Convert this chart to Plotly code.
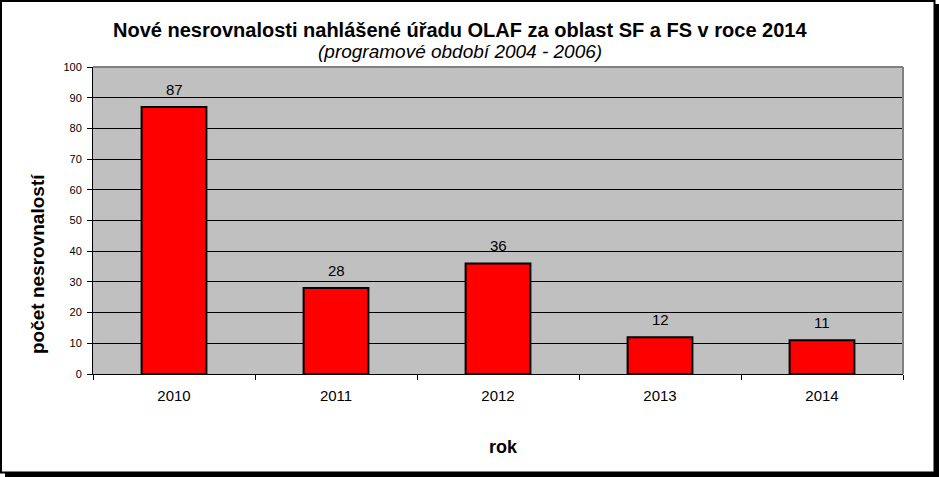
import plotly.graph_objects as go

years = ["2010", "2011", "2012", "2013", "2014"]
counts = [87, 28, 36, 12, 11]

title_text = "Nové nesrovnalosti nahlášené úřadu OLAF za oblast SF a FS v roce 2014"
subtitle_text = "(programové období 2004 - 2006)"
y_title = "počet nesrovnalostí"
x_title = "rok"

FONT = "Liberation Sans, Arial, sans-serif"
W, H = 939, 477
L, R, T, B = 93, 36, 67, 103
PW, PH = W - L - R, H - T - B


def px(x):
    return (x - L) / PW


def py(y):
    return (H - B - y) / PH


xpos = list(range(len(years)))

fig = go.Figure()
fig.add_trace(go.Bar(
    x=xpos, y=counts,
    marker=dict(color="#FF0000", line=dict(color="black", width=2)),
    hoverinfo="skip",
))

annotations = []
for xi, v in zip(xpos, counts):
    annotations.append(dict(x=xi, y=v, xref="x", yref="y", text=str(v), showarrow=False,
                            yanchor="bottom", yshift=7,
                            font=dict(family=FONT, size=15, color="black")))
annotations += [
    dict(x=px(460), y=py(30), xref="paper", yref="paper", text="<b>" + title_text + "</b>",
         showarrow=False, xanchor="center", yanchor="middle",
         font=dict(family=FONT, size=20, color="black")),
    dict(x=px(460), y=py(52), xref="paper", yref="paper", text="<i>" + subtitle_text + "</i>",
         showarrow=False, xanchor="center", yanchor="middle",
         font=dict(family=FONT, size=19, color="black")),
    dict(x=px(503), y=py(447), xref="paper", yref="paper", text="<b>" + x_title + "</b>",
         showarrow=False, xanchor="center", yanchor="middle",
         font=dict(family=FONT, size=18, color="black")),
    dict(x=px(37), y=py(264), xref="paper", yref="paper", text="<b>" + y_title + "</b>",
         showarrow=False, xanchor="center", yanchor="middle", textangle=-90,
         font=dict(family=FONT, size=19, color="black")),
]

shapes = [
    dict(type="rect", xref="paper", yref="paper", x0=px(1), x1=px(934.5), y0=py(1), y1=py(472.5),
         line=dict(color="black", width=2), fillcolor="rgba(0,0,0,0)", layer="above"),
    dict(type="rect", xref="paper", yref="paper", x0=px(934.5), x1=px(940), y0=py(4), y1=py(478),
         line=dict(width=0), fillcolor="black", layer="above"),
    dict(type="rect", xref="paper", yref="paper", x0=px(5), x1=px(940), y0=py(472.5), y1=py(478),
         line=dict(width=0), fillcolor="black", layer="above"),
    dict(type="line", xref="paper", yref="paper", x0=0, x1=1, y0=1, y1=1,
         line=dict(color="#808080", width=2), layer="above"),
    dict(type="line", xref="paper", yref="paper", x0=1, x1=1, y0=0, y1=1,
         line=dict(color="#808080", width=2), layer="above"),
]

fig.update_layout(
    width=W, height=H,
    margin=dict(l=L, r=R, t=T, b=B, pad=0),
    paper_bgcolor="white",
    plot_bgcolor="#C0C0C0",
    showlegend=False,
    bargap=0.6,
    font=dict(family=FONT, color="black"),
    annotations=annotations,
    shapes=shapes,
    xaxis=dict(
        type="linear", range=[-0.5, len(years) - 0.5],
        tickmode="array", tickvals=xpos, ticktext=years,
        ticks="", ticklen=0,
        minor=dict(tickmode="linear", tick0=-0.5, dtick=1, ticks="outside", ticklen=5,
                   tickcolor="black", tickwidth=1, showgrid=False),
        showline=True, linecolor="black", linewidth=1, showgrid=False, zeroline=False,
        tickfont=dict(family=FONT, size=15, color="black"), ticklabelstandoff=8,
        fixedrange=True,
    ),
    yaxis=dict(
        range=[0, 100], tickvals=list(range(0, 101, 10)), ticks="outside", ticklen=5,
        tickcolor="black", tickwidth=1, showline=True, linecolor="black", linewidth=1,
        showgrid=True, gridcolor="black", gridwidth=1, zeroline=False,
        tickfont=dict(family=FONT, size=11, color="black"), ticklabelstandoff=3,
        fixedrange=True,
    ),
)

fig.write_html("out.html", config={"displayModeBar": False})
